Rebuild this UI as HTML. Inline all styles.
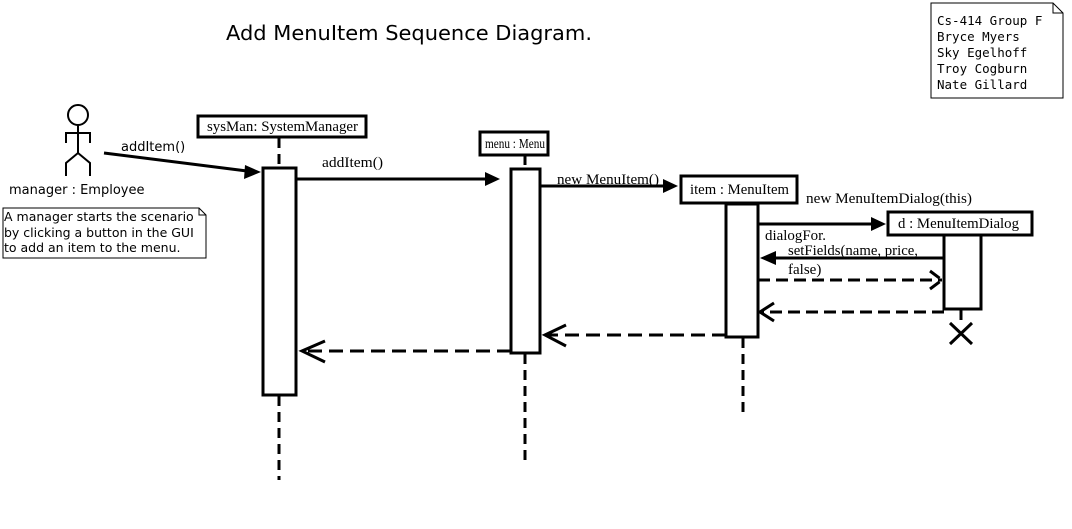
<!DOCTYPE html>
<html><head><style>body{margin:0;background:#fff}svg{display:block}</style></head><body>
<svg width="1072" height="529" viewBox="0 0 1072 529" xmlns="http://www.w3.org/2000/svg">
<rect width="1072" height="529" fill="#fff"/>
<text x="226" y="40" font-family="DejaVu Sans, Liberation Sans, sans-serif" font-size="20" textLength="366" lengthAdjust="spacingAndGlyphs">Add MenuItem Sequence Diagram.</text>
<path d="M931,3 H1053 L1063,13 V98 H931 Z" fill="#fff" stroke="#000"/>
<path d="M1053,3 V13 H1063" fill="none" stroke="#000"/>
<g font-family="DejaVu Sans Mono, Liberation Mono, monospace" font-size="12.5">
<text x="937" y="25">Cs-414 Group F</text><text x="937" y="41">Bryce Myers</text><text x="937" y="57">Sky Egelhoff</text><text x="937" y="73">Troy Cogburn</text><text x="937" y="89">Nate Gillard</text></g>
<g stroke="#000" stroke-width="2" fill="none">
<circle cx="78" cy="115" r="10"/>
<path d="M78,125 V153 M66,143 V133 H90 V143 M78,153 L66,163 V176 M78,153 L90,163 V176"/>
</g>
<text x="9" y="194" font-family="DejaVu Sans, Liberation Sans, sans-serif" font-size="13">manager : Employee</text>
<path d="M3,208 H199 L206,215 V258 H3 Z" fill="#fff" stroke="#000"/>
<path d="M199,208 V215 H206" fill="none" stroke="#000"/>
<g font-family="DejaVu Sans, Liberation Sans, sans-serif" font-size="12.5">
<text x="4" y="221">A manager starts the scenario</text><text x="4" y="237">by clicking a button in the GUI</text><text x="4" y="252">to add an item to the menu.</text></g>
<g fill="none" stroke="#000" stroke-width="3">
<path d="M279,138 V168 M279,396 V480 M525,155 V169 M525,354 V463 M743,338 V418 M961,310 V322" stroke-dasharray="10,6"/>
<rect x="263" y="168" width="33" height="227" fill="#fff"/>
<rect x="511" y="169" width="29" height="184" fill="#fff"/>
<rect x="726" y="204" width="32" height="133" fill="#fff"/>
<rect x="944" y="235" width="37" height="74" fill="#fff"/>
<rect x="198" y="116" width="168" height="21" fill="#fff"/>
<rect x="480" y="132" width="68" height="23" fill="#fff"/>
<rect x="681" y="176" width="116" height="27" fill="#fff"/>
<rect x="888" y="212" width="144" height="23" fill="#fff"/>
<path d="M950,323 L972,344 M972,323 L950,344"/>
<path d="M104,153 L247,171"/>
<path d="M296,179 H486"/>
<path d="M540,186 H664"/>
<path d="M758,224 H872"/>
<path d="M944,258 H776"/>
<path d="M758,280 H942 M930,271 L942,280 L930,289" stroke-dasharray="12,6"/>
<path d="M944,312 H760" stroke-dasharray="12,6"/>
<path d="M774,303 L760,312 L774,321"/>
<path d="M726,335 H545" stroke-dasharray="14,7"/>
<path d="M566,325 L545,335 L566,346"/>
<path d="M511,351 H302" stroke-dasharray="14,7"/>
<path d="M325,341 L302,351 L325,362"/>
</g>
<g fill="#000">
<path d="M261,172 L245,165 L244,179 Z"/>
<path d="M500,179 L485,172 L485,186 Z"/>
<path d="M678,186 L663,179 L663,193 Z"/>
<path d="M886,224 L871,217 L871,231 Z"/>
<path d="M760,258 L776,251 L776,265 Z"/>
</g>
<g font-family="Liberation Serif, serif" font-size="15">
<text x="207" y="131" textLength="151" lengthAdjust="spacingAndGlyphs">sysMan: SystemManager</text>
<text x="485" y="148" font-size="14" textLength="60" lengthAdjust="spacingAndGlyphs">menu : Menu</text>
<text x="690" y="194" textLength="99" lengthAdjust="spacingAndGlyphs">item : MenuItem</text>
<text x="898" y="228" textLength="121" lengthAdjust="spacingAndGlyphs">d : MenuItemDialog</text>
<text x="322" y="167" textLength="61" lengthAdjust="spacingAndGlyphs">addItem()</text>
<text x="557" y="184" textLength="102" lengthAdjust="spacingAndGlyphs">new MenuItem()</text>
<text x="806" y="203" textLength="166" lengthAdjust="spacingAndGlyphs">new  MenuItemDialog(this)</text>
<text x="765" y="240" textLength="61" lengthAdjust="spacingAndGlyphs">dialogFor.</text>
<text x="788" y="255" textLength="130" lengthAdjust="spacingAndGlyphs">setFields(name, price,</text>
<text x="788" y="274">false)</text>
</g>
<text x="121" y="151" font-family="DejaVu Sans, Liberation Sans, sans-serif" font-size="13">addItem()</text>
</svg>
</body></html>
